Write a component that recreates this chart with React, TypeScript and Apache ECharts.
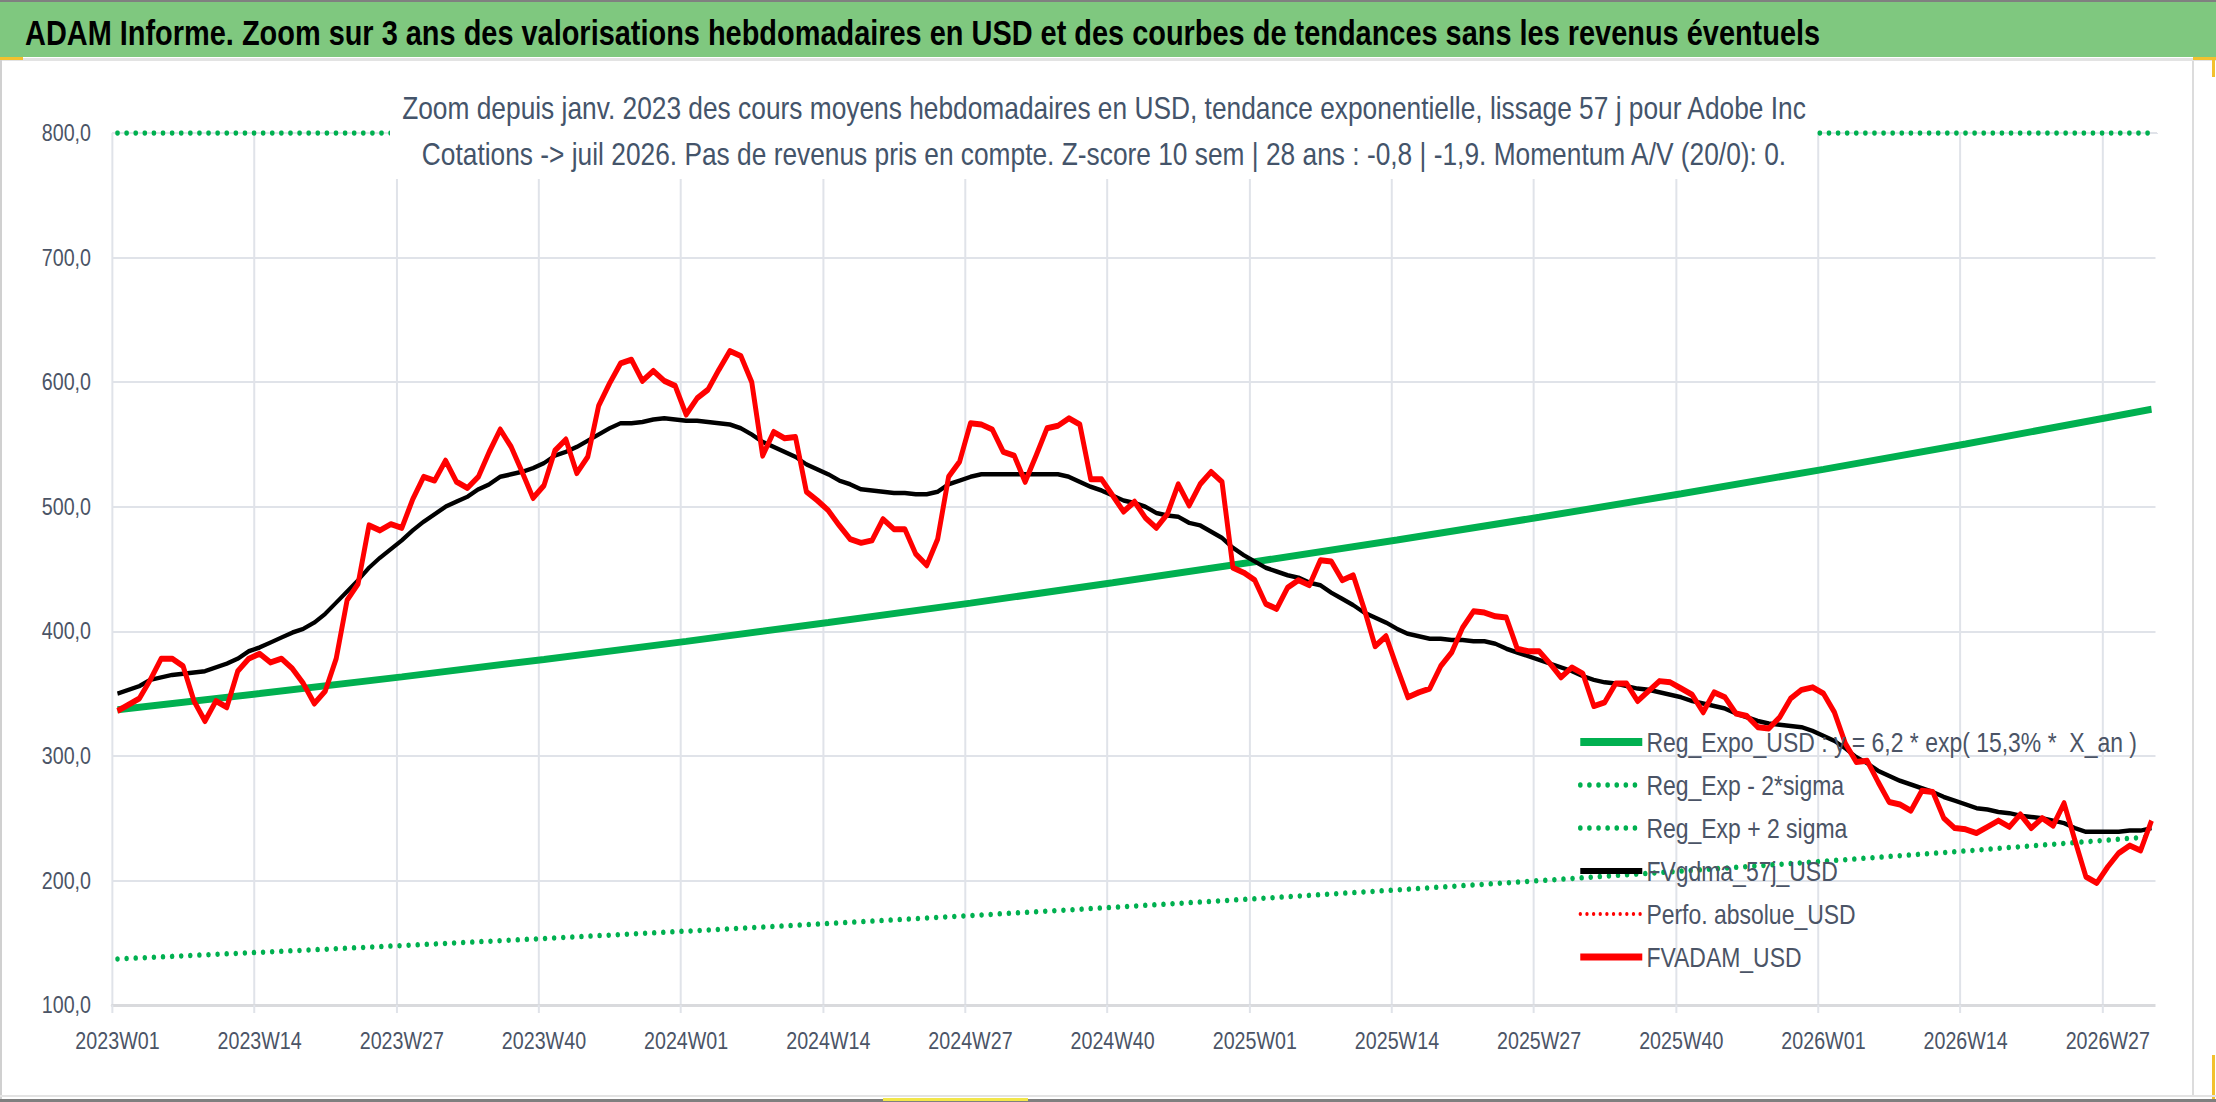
import { useEffect, useRef } from 'react';
import * as echarts from 'echarts';

// The chart is laid out on a wider canvas and squeezed horizontally with CSS,
// which gives the condensed lettering of the original.
const CW = 2702;
const CH = 1102;
const S = 2216 / CW;
const X = (x: number) => x / S;

const FONT = "'Liberation Sans', Arial, sans-serif";
const TEXT_GREY = '#4b5466';
const GRID_GREY = '#e0e3e9';

// weeks shown per year, 2023W01 -> 2026W31
const weekSpans: [number, number][] = [[2023, 52], [2024, 52], [2025, 52], [2026, 31]];
const categories: string[] = [];
weekSpans.forEach(([year, n]) => {
    for (let w = 1; w <= n; w++) categories.push(`${year}W${String(w).padStart(2, '0')}`);
});

// FVADAM_USD, weekly
const fvAdam = [
    336, 341, 346, 361, 378, 378, 372, 344, 328, 344, 339, 368, 378, 382, 375, 378, 370, 358, 342, 352,
    378, 425, 438, 485, 481, 486, 483, 506, 524, 521, 537, 520, 515, 524, 544, 562, 548, 528, 507, 517,
    545, 554, 527, 540, 581, 599, 615,
    618, 601, 609, 601, 597, 574, 587, 594, 610, 625, 621, 600, 541, 560, 555, 556, 512, 505, 497, 485,
    474, 471, 473, 490, 482, 482, 462, 453, 474, 524, 536, 567, 566, 562, 544, 541, 520, 541, 563, 565,
    571, 566, 522, 522, 509, 496, 504,
    491, 483, 494, 518, 501, 518, 528, 520, 451, 447, 441, 422, 418, 435, 441, 437, 457, 456, 441, 445,
    418, 388, 396, 371, 347, 351, 354, 372, 383, 403, 416, 415, 412, 411, 386, 384, 384, 374, 363, 371,
    366, 340, 343, 358, 358, 344, 352, 360,
    359, 354, 349, 335, 351, 347, 334, 332, 323, 322, 331, 346, 353, 355, 350, 335, 310, 295, 296, 279,
    263, 261, 256, 272, 271, 250, 242, 241, 238, 243, 248, 243, 253, 242, 250, 244, 262, 232, 203, 198,
    211, 222, 228, 224, 248,
];

// FVgdma_57j_USD, weekly
const fvGdma = [
    350, 353, 356, 361, 363, 365, 366, 367, 368, 371, 374, 378, 384, 387, 391, 395, 399, 402, 407, 414,
    423, 432, 441, 451, 459, 466, 473, 481, 488, 494, 500, 504, 508, 514, 518, 524, 526, 528, 531, 535,
    541, 544, 548, 553, 558, 563, 567,
    567, 568, 570, 571, 570, 569, 569, 568, 567, 566, 563, 558, 552, 548, 544, 540, 534, 530, 526, 521,
    518, 514, 513, 512, 511, 511, 510, 510, 512, 518, 521, 524, 526, 526, 526, 526, 526, 526, 526, 526,
    524, 520, 516, 513, 509, 505, 503,
    500, 495, 493, 492, 487, 485, 480, 475, 467, 461, 456, 451, 448, 445, 443, 439, 437, 431, 426, 421,
    415, 411, 407, 402, 398, 396, 394, 394, 393, 393, 392, 392, 390, 386, 383, 380, 377, 374, 371, 368,
    364, 361, 359, 358, 356, 354, 353, 351,
    349, 347, 344, 342, 340, 338, 334, 331, 328, 326, 325, 324, 323, 320, 316, 312, 306, 299, 294, 288,
    284, 280, 277, 274, 271, 267, 264, 261, 258, 257, 255, 254, 252, 251, 250, 248, 246, 242, 239, 239,
    239, 239, 240, 240, 242,
];

// trend curves read at every 13th week (plus the last one), joined across the gaps
const trendIdx = [0, 13, 26, 39, 52, 65, 78, 91, 104, 117, 130, 143, 156, 169, 182, 186];
const regExpo = [337, 350, 363.4, 377.4, 391.9, 407, 422.6, 438.9, 455.8, 473.3, 491.5, 510.4, 530, 550.4, 571.6, 578.3];
const regLow = [137, 142.3, 147.7, 153.4, 159.3, 165.4, 171.8, 178.4, 185.3, 192.4, 199.8, 207.5, 215.4, 223.7, 232.4, 235.1];
const regHigh = [800, 800, 800, 800, 800, 800, 800, 800, 800, 800, 800, 800, 800, 800, 800, 800];

const legendNames = [
    'Reg_Expo_USD : y = 6,2 * exp( 15,3% *  X_an )',
    'Reg_Exp - 2*sigma',
    'Reg_Exp + 2 sigma',
    'FVgdma_57j_USD',
    'Perfo. absolue_USD',
    'FVADAM_USD',
];

const titleText = 'ADAM Informe. Zoom sur 3 ans des valorisations hebdomadaires en USD et des courbes de tendances sans les revenus éventuels';
const subtitleLines = [
    'Zoom depuis janv. 2023 des cours moyens hebdomadaires en USD, tendance exponentielle, lissage 57 j pour Adobe Inc',
    'Cotations -> juil 2026. Pas de revenus pris en compte. Z-score 10 sem | 28 ans : -0,8 | -1,9. Momentum A/V (20/0): 0.',
];

function sparse(values: number[]) {
    const out: (number | null)[] = categories.map(() => null);
    trendIdx.forEach((idx, k) => { out[idx] = values[k]; });
    return out;
}

const GREEN = '#00b050';
const dotted = { type: [0.1, 11], cap: 'round' as const, width: 5.5 };

const box = (x: number, y: number, w: number, h: number, fill: string, z = 1) => ({
    type: 'rect', z, shape: { x: X(x), y, width: X(w), height: h }, style: { fill },
});

export default function App() {
    const chartRef = useRef<HTMLDivElement>(null);

    useEffect(() => {
        if (!chartRef.current) return;
        const chart = echarts.init(chartRef.current, null, { renderer: 'svg' });

        const option = {
            animation: false,
            backgroundColor: '#ffffff',
            textStyle: { fontFamily: FONT },
            grid: { left: X(112), right: X(59), top: 133, bottom: 97, containLabel: false },
            graphic: [
                box(0, 0, 2216, 57, '#7fc87f'),
                box(0, 0, 2216, 2, '#808080'),
                box(0, 58, 2216, 3, '#e3e3e3'),
                box(0, 57, 23, 3, '#f2c12e'),
                box(0, 60, 2, 1040, '#d0d0d0'),
                box(2192, 61, 2, 1036, '#dcdcdc'),
                box(2193, 57, 23, 3, '#f2c12e'),
                box(2212, 57, 3, 20, '#f2c12e'),
                box(2212, 1055, 3, 45, '#f2c12e'),
                box(0, 1095, 2216, 2, '#e3e3e3'),
                box(0, 1099, 2216, 3, '#7f7f7f'),
                box(883, 1098, 145, 3, '#f2e64a', 2),
                // the plot has no vertical grid line on its right edge
                box(2155.5, 134, 4, 882, '#ffffff', 1),
                {
                    type: 'text', x: X(25), y: 32, z: 3, scaleX: 0.98,
                    style: {
                        text: titleText, fill: '#000000', fontFamily: FONT, fontWeight: 'bold', fontSize: 36,
                        textAlign: 'left', textVerticalAlign: 'middle',
                    },
                },
                // white box behind the subtitle hides grid and the 800 line
                box(390, 80, 1427, 99, '#ffffff', 10),
                ...subtitleLines.map((line, k) => ({
                    type: 'text', x: X(1104), y: 108 + k * 46, z: 11, scaleX: 1.035,
                    style: {
                        text: line, fill: '#44546a', fontFamily: FONT, fontSize: 31,
                        textAlign: 'center', textVerticalAlign: 'middle',
                    },
                })),
            ],
            legend: {
                orient: 'vertical',
                left: X(1577),
                top: 727,
                padding: 0,
                itemWidth: X(62),
                itemHeight: 14,
                itemGap: 13,
                itemStyle: { color: 'rgba(0,0,0,0)', borderWidth: 0, opacity: 0 },
                data: [
                    { name: legendNames[0], lineStyle: { width: 8 } },
                    { name: legendNames[1], lineStyle: { width: 5.5 } },
                    { name: legendNames[2], lineStyle: { width: 5.5 } },
                    { name: legendNames[3], lineStyle: { width: 6 } },
                    { name: legendNames[4], lineStyle: { width: 4 } },
                    { name: legendNames[5], lineStyle: { width: 7 } },
                ],
                textStyle: { fontFamily: FONT, fontSize: 28, color: TEXT_GREY, lineHeight: 30 },
            },
            xAxis: {
                type: 'category',
                data: categories,
                boundaryGap: true,
                axisLine: { lineStyle: { color: '#d9dadd', width: 3 } },
                axisTick: { show: true, interval: 12, length: 8, lineStyle: { color: GRID_GREY, width: X(2) } },
                axisLabel: { interval: 12, fontSize: 24, color: TEXT_GREY, fontFamily: FONT, margin: 24 },
                splitLine: { show: true, interval: 12, lineStyle: { color: GRID_GREY, width: X(2) } },
            },
            yAxis: {
                type: 'value',
                min: 100,
                max: 800,
                interval: 100,
                axisLine: { show: false },
                axisTick: { show: false },
                axisLabel: {
                    fontSize: 24, color: TEXT_GREY, fontFamily: FONT, margin: X(21),
                    formatter: (v: number) => v.toFixed(1).replace('.', ','),
                },
                splitLine: { lineStyle: { color: GRID_GREY, width: 2 } },
            },
            series: [
                {
                    name: legendNames[0], type: 'line', data: sparse(regExpo), connectNulls: true,
                    symbol: 'none', color: GREEN, lineStyle: { color: GREEN, width: 7 },
                },
                {
                    name: legendNames[1], type: 'line', data: sparse(regLow), connectNulls: true,
                    symbol: 'none', color: GREEN, lineStyle: { color: GREEN, ...dotted },
                },
                {
                    name: legendNames[2], type: 'line', data: sparse(regHigh), connectNulls: true,
                    symbol: 'none', color: GREEN, lineStyle: { color: GREEN, ...dotted },
                },
                {
                    name: legendNames[3], type: 'line', data: fvGdma,
                    symbol: 'none', color: '#000000', lineStyle: { color: '#000000', width: 4.5, join: 'round' },
                },
                {
                    name: legendNames[4], type: 'line', data: [],
                    symbol: 'none', color: '#ff0000',
                    lineStyle: { color: '#ff0000', type: [0.1, 8], cap: 'round', width: 4 },
                },
                {
                    name: legendNames[5], type: 'line', data: fvAdam,
                    symbol: 'none', color: '#ff0000', lineStyle: { color: '#ff0000', width: 6, join: 'round' },
                },
            ],
        };

        chart.setOption(option as any);

        return () => {
            chart.dispose();
        };
    }, []);

    return (
        <div style={{ position: 'fixed', left: 0, top: 0, width: 2216, height: CH, overflow: 'hidden', background: '#fff' }}>
            <div
                ref={chartRef}
                style={{ width: CW, height: CH, transform: `scaleX(${S})`, transformOrigin: '0 0' }}
            />
        </div>
    );
}
